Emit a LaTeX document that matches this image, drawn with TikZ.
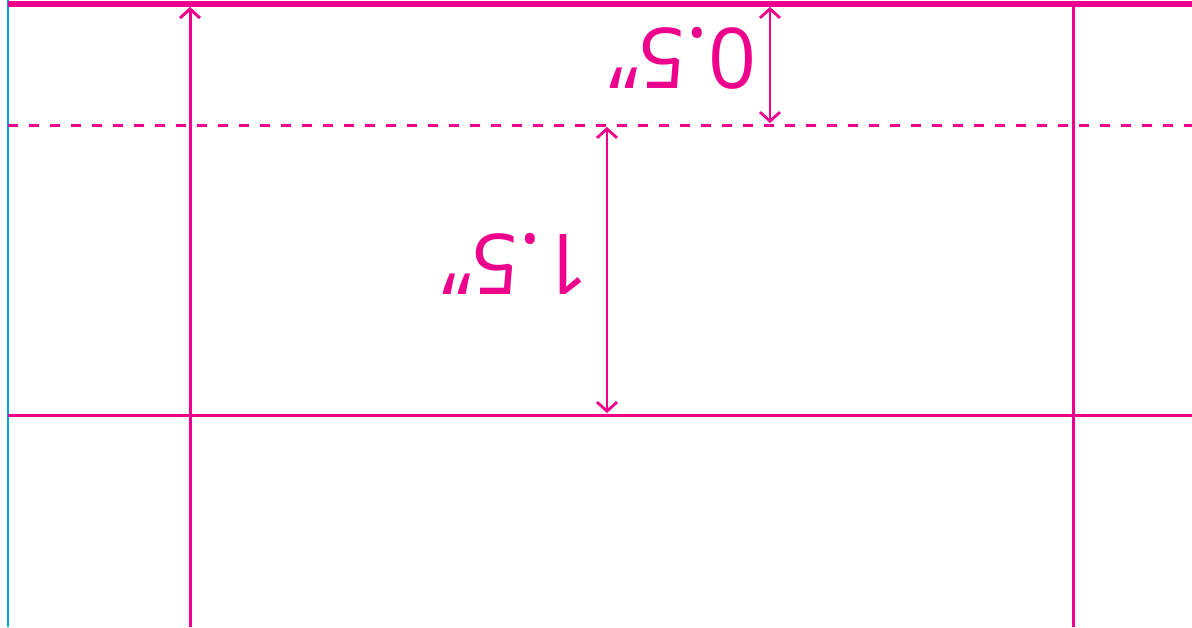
\documentclass[tikz,border=0pt]{standalone}
\usepackage{fontspec}
\setmainfont{Open Sans}
\usetikzlibrary{arrows.meta}
\definecolor{trimmagenta}{HTML}{EC008C}
\definecolor{sheetcyan}{HTML}{00A6E6}
\tikzset{
  foldline/.style={trimmagenta,line width=3pt},
  dimarrow/.style={trimmagenta,line width=2.8pt,{Straight Barb[length=9pt,width=20pt]}-{Straight Barb[length=9pt,width=20pt]}},
  dimlabel/.style={text=trimmagenta,font=\fontsize{84}{84}\selectfont,rotate=180,inner sep=0pt}
}
\begin{document}
\begin{tikzpicture}[x=1pt,y=-1pt]
\useasboundingbox (0,0) rectangle (1192,627);

% Sheet edge
\draw[sheetcyan,line width=2pt] (7.5,0) -- (7.5,627);

% Guide points
\coordinate (topL) at (8,4);
\coordinate (topR) at (1192,4);
\coordinate (dashL) at (8,125);
\coordinate (dashR) at (1192,125);
\coordinate (foldL) at (8,415);
\coordinate (foldR) at (1192,415);
\coordinate (leftTop) at (190,7);
\coordinate (leftBot) at (190,627);
\coordinate (rightTop) at (1073,6);
\coordinate (rightBot) at (1073,627);

% Horizontal lines
\draw[trimmagenta,line width=6pt] (topL) -- (topR);
\draw[trimmagenta,line width=3pt,dash pattern=on 10pt off 11pt] (dashL) -- (dashR);
\draw[foldline] (foldL) -- (foldR);

% Vertical lines
\draw[foldline,-{Straight Barb[length=9pt,width=20pt]}] (leftBot) -- (leftTop);
\draw[foldline] (rightBot) -- (rightTop);

% Dimensions
\coordinate (dimAtop) at (770,7);
\coordinate (dimAbot) at (770,123);
\coordinate (dimBtop) at (607,127);
\coordinate (dimBbot) at (607,413);
\draw[dimarrow] (dimAtop) -- (dimAbot);
\draw[dimarrow] (dimBtop) -- (dimBbot);
\node[dimlabel] (half) at (683,58) {0.5”};
\node[dimlabel] (oneHalf) at (516,264) {1.5”};

\end{tikzpicture}
\end{document}
